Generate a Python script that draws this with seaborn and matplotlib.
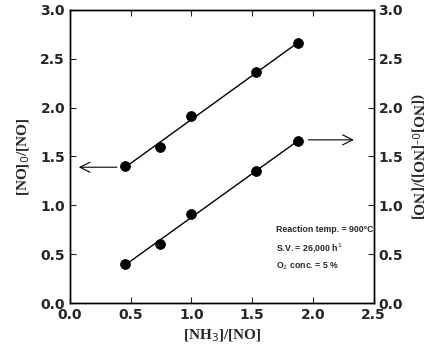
import numpy as np
import matplotlib
matplotlib.use("Agg")
import matplotlib.pyplot as plt
import seaborn as sns

# data
nh3_ratio = [0.45, 0.74, 1.00, 1.53, 1.88]
no0_over_no = [1.40, 1.60, 1.91, 2.36, 2.66]
conv_ratio = [0.40, 0.60, 0.91, 1.35, 1.66]

sns.set_theme(style="ticks")
plt.rcParams['font.family'] = ['DejaVu Sans']

fig, ax = plt.subplots(figsize=(4.29, 3.52), dpi=100)
fig.subplots_adjust(left=0.163, right=0.871, top=0.972, bottom=0.139)

# linear fits through each set
for ys in (no0_over_no, conv_ratio):
    k, b = np.polyfit(nh3_ratio, ys, 1)
    xs = np.array([nh3_ratio[0], nh3_ratio[-1]])
    ax.plot(xs, k * xs + b, color='black', lw=1.0)
    sns.scatterplot(x=nh3_ratio, y=ys, ax=ax, color='black', s=50,
                    edgecolor='black', zorder=3)

ax.set_xlim(0, 2.5)
ax.set_ylim(0, 3.0)
ax.set_xticks(np.arange(0, 2.51, 0.5))
ax.set_yticks(np.arange(0, 3.01, 0.5))
ax.tick_params(direction='in', length=4, width=0.8, top=True, right=False,
               labelsize=10)
for lab in ax.get_xticklabels() + ax.get_yticklabels():
    lab.set_fontweight('heavy')
ax.xaxis.set_major_formatter(matplotlib.ticker.FormatStrFormatter('%.1f'))
ax.yaxis.set_major_formatter(matplotlib.ticker.FormatStrFormatter('%.1f'))

ax2 = ax.twinx()
ax2.set_ylim(0, 3.0)
ax2.set_yticks(np.arange(0, 3.01, 0.5))
ax2.yaxis.set_major_formatter(matplotlib.ticker.FormatStrFormatter('%.1f'))
ax2.tick_params(direction='in', length=4, width=0.8, labelsize=10)
for lab in ax2.get_yticklabels():
    lab.set_fontweight('heavy')

for a in (ax, ax2):
    for s in a.spines.values():
        s.set_linewidth(1.0)
        s.set_color('black')

ax.set_xlabel('[NH$_3$]/[NO]', family='Liberation Serif', fontweight='bold',
              fontsize=11, labelpad=4)
ax.set_ylabel('[NO]$_0$/[NO]', family='Liberation Serif', fontweight='bold',
              fontsize=11, labelpad=6)
ax2.set_ylabel('([NO]$_0$-[NO])/[NO]', family='Liberation Serif',
               fontweight='bold', fontsize=11, rotation=270, labelpad=16)

arrow = dict(arrowstyle='->', color='black', lw=0.8, mutation_scale=18)
ax.annotate('', xy=(0.05, 1.39), xytext=(0.41, 1.39), arrowprops=arrow)
ax.annotate('', xy=(2.36, 1.67), xytext=(1.94, 1.67), arrowprops=arrow)

note_font = dict(family='Liberation Sans', fontsize=6.3, fontweight='bold',
                 va='center')
ax.text(1.70, 0.75, 'Reaction temp. = 900°C', **note_font)
ax.text(1.70, 0.56, 'S.V. = 26,000 h$^1$', **note_font)
ax.text(1.70, 0.38, 'O$_2$ conc. = 5 %', **note_font)

fig.savefig('out.png', dpi=100)
